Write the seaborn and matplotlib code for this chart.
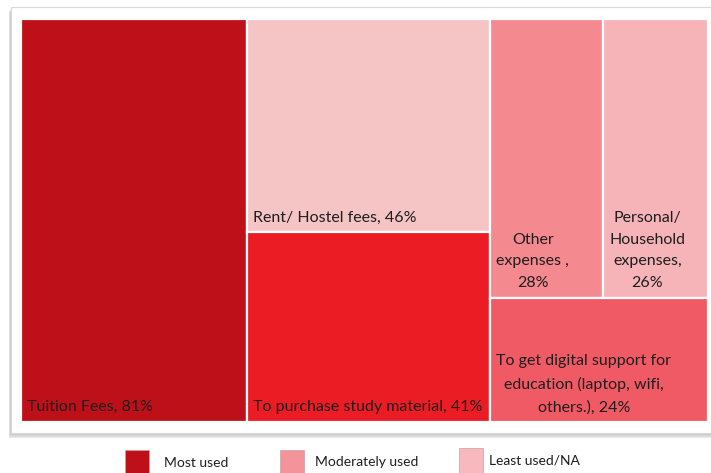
import matplotlib
matplotlib.use('Agg')
import matplotlib.pyplot as plt
import seaborn as sns
from matplotlib.patches import Rectangle

# tiles of the treemap
labels = ['Tuition Fees, 81%',
          'Rent/ Hostel fees, 46%',
          'To purchase study material, 41%',
          'Other\nexpenses ,\n28%',
          'Personal/\nHousehold\nexpenses,\n26%',
          'To get digital support for\neducation (laptop, wifi,\nothers.), 24%']
values = [81, 46, 41, 28, 26, 24]
tile_colors = ['#BE1018', '#F5C4C5', '#EC1C24', '#F48A90', '#F7B4B8', '#F05A64']
# nesting of tiles: columns -> rows -> columns
groups = [0, [1, 2], [[3, 4], 5]]

legend_labels = ['Most used', 'Moderately used', 'Least used/NA']
legend_colors = ['#BE1018', '#F4939A', '#F7B9BD']

sns.set_theme(style='white')
plt.rcParams['font.family'] = ['Lato', 'DejaVu Sans']
TXT = '#1e1e1e'


def weight(node):
    if isinstance(node, int):
        return values[node]
    return sum(weight(n) for n in node)


def layout(node, x, y, w, h, horiz, out):
    if isinstance(node, int):
        out[node] = (x, y, w, h)
        return
    tot = weight(node)
    for child in node:
        f = weight(child) / tot
        if horiz:
            layout(child, x, y, w * f, h, not horiz, out)
            x += w * f
        else:
            layout(child, x, y, w, h * f, not horiz, out)
            y += h * f


W, H = 711, 473
fig = plt.figure(figsize=(W / 100, H / 100), dpi=100)

# background: framed card + legend
bg = fig.add_axes([0, 0, 1, 1])
bg.set_xlim(0, W)
bg.set_ylim(H, 0)
bg.axis('off')
for i in range(1, 7):
    bg.add_patch(Rectangle((11 - i * 0.4, 7 + i * 0.9), 720, 426,
                           facecolor='#707070', alpha=0.08, edgecolor='none'))
bg.add_patch(Rectangle((11, 7), 720, 426, facecolor='white',
                       edgecolor='#d8d8d8', linewidth=0.8))

leg_x = [125, 280, 459]
leg_y = [450, 450, 448]
txt_x = [164, 315, 489]
txt_y = [463, 462, 460]
for lab, col, lx, ly, tx, ty in zip(legend_labels, legend_colors, leg_x, leg_y, txt_x, txt_y):
    bg.add_patch(Rectangle((lx, ly), 24, 25, facecolor=col,
                           edgecolor='#c9a0a0', linewidth=0.5))
    bg.text(tx, ty, lab, fontsize=10, color=TXT, va='center', ha='left')

# treemap
ax = fig.add_axes([21 / W, 1 - 422 / H, 687 / W, 403 / H])
ax.set_xlim(0, 1)
ax.set_ylim(1, 0)
ax.axis('off')

rects = {}
layout(groups, 0, 0, 1, 1, True, rects)
for i in range(len(values)):
    x, y, w, h = rects[i]
    ax.bar(x, h, width=w, bottom=y, align='edge', color=tile_colors[i],
           edgecolor='white', linewidth=1.6)
    ax.annotate(labels[i], xy=(x, y + h), xytext=(4.5, 5.5), textcoords='offset points',
                ha='left', va='bottom', multialignment='center',
                fontsize=11.5, color=TXT, linespacing=1.72)

fig.savefig('out.png', dpi=100)
